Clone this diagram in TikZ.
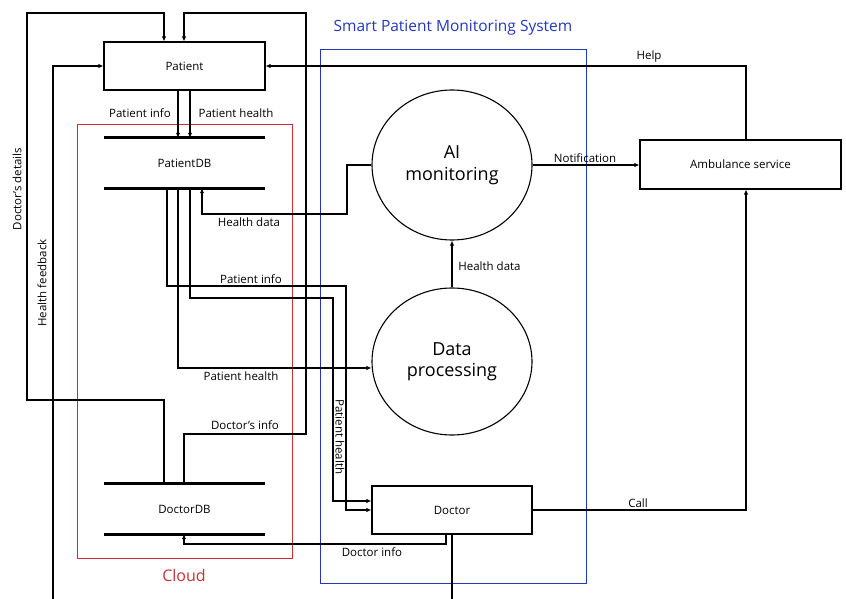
\documentclass[tikz,border=0pt]{standalone}
\usepackage{fontspec}
\setmainfont{Open Sans}
\usetikzlibrary{arrows.meta,shapes.geometric}
\definecolor{cloudred}{RGB}{205,45,55}
\definecolor{sysblue}{RGB}{35,55,190}
\begin{document}
\begin{tikzpicture}[x=1pt,y=-1pt,
  lbl/.style={font=\fontsize{11.5}{13}\selectfont, inner sep=1pt},
  big/.style={font=\fontsize{18}{21.5}\selectfont, align=center},
  boxnode/.style={draw, line width=1.1pt, inner sep=0pt, font=\fontsize{11.5}{13}\selectfont},
  dbnode/.style={inner sep=0pt, font=\fontsize{11.5}{13}\selectfont},
  proc/.style={draw, ellipse, line width=1.1pt, inner sep=0pt, minimum width=160pt},
  plain/.style={line width=1.1pt},
  flow/.style={line width=1.1pt, -{Latex[length=5pt,width=4.5pt]}},
  dbline/.style={line width=3pt}]
\useasboundingbox (0,0) rectangle (846,599);

% group frames
\draw[cloudred, line width=1pt] (77,125) rectangle (292,558);
\draw[sysblue, line width=1pt] (320,50) rectangle (586,583);
\node[font=\fontsize{16}{19}\selectfont, text=cloudred] (cloudlbl) at (184,575) {Cloud};
\node[font=\fontsize{15.5}{18}\selectfont, text=sysblue] (syslbl) at (453,28) {Smart Patient Monitoring System};

% nodes
\node[boxnode, minimum width=161pt, minimum height=48pt] (patient) at (184.5,66) {Patient};
\node[dbnode, minimum width=161pt, minimum height=50pt] (pdb) at (184.5,163) {PatientDB};
\node[dbnode, minimum width=161pt, minimum height=50pt] (ddb) at (184.5,509) {DoctorDB};
\draw[dbline] (pdb.north west) -- (pdb.north east);
\draw[dbline] (pdb.south west) -- (pdb.south east);
\draw[dbline] (ddb.north west) -- (ddb.north east);
\draw[dbline] (ddb.south west) -- (ddb.south east);
\node[proc, minimum height=150pt, big] (ai) at (452,165) {AI\\monitoring};
\node[proc, minimum height=147pt, big] (dp) at (452,361.5) {Data\\processing};
\node[boxnode, minimum width=160pt, minimum height=48pt] (doctor) at (452,510) {Doctor};
\node[boxnode, minimum width=201pt, minimum height=49pt] (amb) at (740.5,164.5) {Ambulance service};

% helper coordinates
\coordinate (c164) at (164,0);
\coordinate (c167) at (167,0);
\coordinate (c178) at (178,0);
\coordinate (c184) at (184,0);
\coordinate (c190) at (190,0);
\coordinate (c202) at (202,0);
\coordinate (c446) at (446,0);
\coordinate (c746) at (746,0);
\coordinate (r368) at (0,368);
\coordinate (r501) at (0,501);
\coordinate (fbend) at (53,599);
\coordinate (docend) at (452,599);

% connectors
\draw[flow] (ddb.north -| c164) -- (164,400) -- (27,400) -- (27,13) -- (164,13) -- (patient.north -| c164);
\draw[flow] (ddb.north -| c184) -- (184,434) -- (306,434) -- (306,13) -- (184,13) -- (patient.north -| c184);
\draw[flow] (fbend) -- (53,66) -- (patient.west);
\draw[flow] (patient.south -| c178) -- (pdb.north -| c178);
\draw[flow] (patient.south -| c190) -- (pdb.north -| c190);
\draw[flow] (ai.west) -- (347,165) -- (347,214) -- (202,214) -- (pdb.south -| c202);
\draw[flow] (pdb.south -| c167) -- (167,286) -- (346,286) -- (346,510) -- (doctor.west);
\draw[flow] (pdb.south -| c190) -- (190,298) -- (333,298) -- (333,501) -- (doctor.west |- r501);
\draw[flow] (pdb.south -| c178) -- (178,368) -- (dp.west |- r368);
\draw[flow] (dp.north) -- (ai.south);
\draw[flow] (ai.east) -- (amb.west |- ai.east);
\draw[flow] (amb.north -| c746) -- (746,66) -- (patient.east);
\draw[flow] (doctor.east) -- (746,510) -- (amb.south -| c746);
\draw[flow] (doctor.south -| c446) -- (446,544) -- (184,544) -- (ddb.south -| c184);
\draw[plain] (doctor.south) -- (docend);

% labels
\node[lbl, rotate=90] (l1) at (17,189) {Doctor’s details};
\node[lbl, rotate=90] (l2) at (42,283) {Health feedback};
\node[lbl] (l3) at (140,113) {Patient info};
\node[lbl] (l4) at (236,113) {Patient health};
\node[lbl] (l5) at (249,222) {Health data};
\node[lbl] (l6) at (251,279) {Patient info};
\node[lbl] (l7) at (241,376) {Patient health};
\node[lbl] (l8) at (245,425) {Doctor’s info};
\node[lbl, rotate=-90] (l9) at (340,437) {Patient health};
\node[lbl] (l10) at (489.5,266) {Health data};
\node[lbl] (l11) at (585,158) {Notification};
\node[lbl] (l12) at (649,57) {Help};
\node[lbl] (l13) at (638,503) {Call};
\node[lbl] (l14) at (372,552) {Doctor info};
\end{tikzpicture}
\end{document}
